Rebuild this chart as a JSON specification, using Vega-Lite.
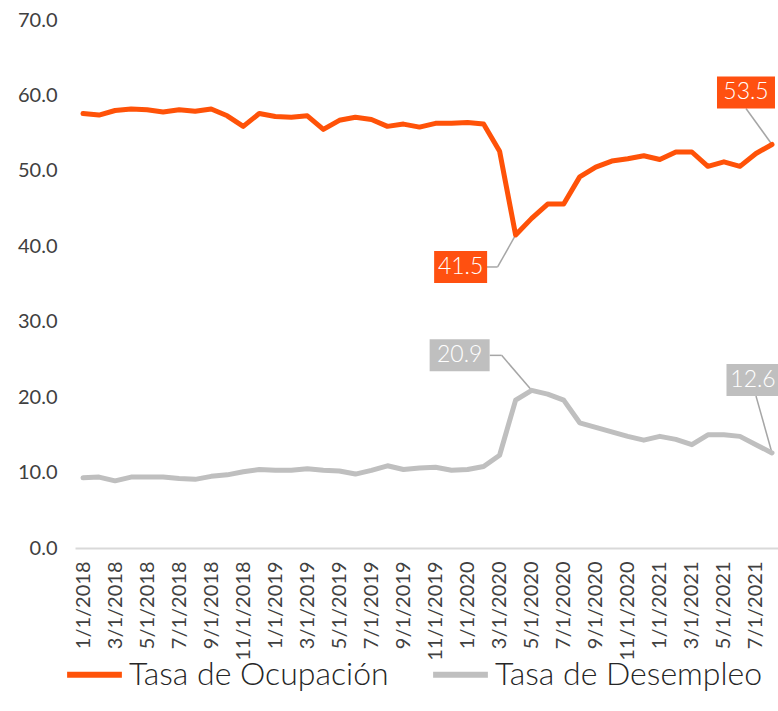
{
  "$schema": "https://vega.github.io/schema/vega-lite/v6.json",
  "width": 705,
  "height": 528,
  "autosize": {"type": "none"},
  "padding": {"left": 75, "top": 20, "right": 0, "bottom": 163},
  "background": "white",
  "config": {
    "view": {"stroke": null},
    "font": "Lato",
    "axis": {"labelFont": "Lato", "labelColor": "#404040"},
    "legend": {"labelFont": "Lato"}
  },
  "data": {
    "values": [
      {"fecha": "1/1/2018", "Tasa de Ocupación": 57.6, "Tasa de Desempleo": 9.3},
      {"fecha": "2/1/2018", "Tasa de Ocupación": 57.4, "Tasa de Desempleo": 9.4},
      {"fecha": "3/1/2018", "Tasa de Ocupación": 58.0, "Tasa de Desempleo": 8.9},
      {"fecha": "4/1/2018", "Tasa de Ocupación": 58.2, "Tasa de Desempleo": 9.4},
      {"fecha": "5/1/2018", "Tasa de Ocupación": 58.1, "Tasa de Desempleo": 9.4},
      {"fecha": "6/1/2018", "Tasa de Ocupación": 57.8, "Tasa de Desempleo": 9.4},
      {"fecha": "7/1/2018", "Tasa de Ocupación": 58.1, "Tasa de Desempleo": 9.2},
      {"fecha": "8/1/2018", "Tasa de Ocupación": 57.9, "Tasa de Desempleo": 9.1},
      {"fecha": "9/1/2018", "Tasa de Ocupación": 58.2, "Tasa de Desempleo": 9.5},
      {"fecha": "10/1/2018", "Tasa de Ocupación": 57.3, "Tasa de Desempleo": 9.7},
      {"fecha": "11/1/2018", "Tasa de Ocupación": 55.9, "Tasa de Desempleo": 10.1},
      {"fecha": "12/1/2018", "Tasa de Ocupación": 57.6, "Tasa de Desempleo": 10.4},
      {"fecha": "1/1/2019", "Tasa de Ocupación": 57.2, "Tasa de Desempleo": 10.3},
      {"fecha": "2/1/2019", "Tasa de Ocupación": 57.1, "Tasa de Desempleo": 10.3},
      {"fecha": "3/1/2019", "Tasa de Ocupación": 57.3, "Tasa de Desempleo": 10.5},
      {"fecha": "4/1/2019", "Tasa de Ocupación": 55.5, "Tasa de Desempleo": 10.3},
      {"fecha": "5/1/2019", "Tasa de Ocupación": 56.7, "Tasa de Desempleo": 10.2},
      {"fecha": "6/1/2019", "Tasa de Ocupación": 57.1, "Tasa de Desempleo": 9.8},
      {"fecha": "7/1/2019", "Tasa de Ocupación": 56.8, "Tasa de Desempleo": 10.3},
      {"fecha": "8/1/2019", "Tasa de Ocupación": 55.9, "Tasa de Desempleo": 10.9},
      {"fecha": "9/1/2019", "Tasa de Ocupación": 56.2, "Tasa de Desempleo": 10.4},
      {"fecha": "10/1/2019", "Tasa de Ocupación": 55.8, "Tasa de Desempleo": 10.6},
      {"fecha": "11/1/2019", "Tasa de Ocupación": 56.3, "Tasa de Desempleo": 10.7},
      {"fecha": "12/1/2019", "Tasa de Ocupación": 56.3, "Tasa de Desempleo": 10.3},
      {"fecha": "1/1/2020", "Tasa de Ocupación": 56.4, "Tasa de Desempleo": 10.4},
      {"fecha": "2/1/2020", "Tasa de Ocupación": 56.2, "Tasa de Desempleo": 10.8},
      {"fecha": "3/1/2020", "Tasa de Ocupación": 52.6, "Tasa de Desempleo": 12.3},
      {"fecha": "4/1/2020", "Tasa de Ocupación": 41.5, "Tasa de Desempleo": 19.6},
      {"fecha": "5/1/2020", "Tasa de Ocupación": 43.7, "Tasa de Desempleo": 20.9},
      {"fecha": "6/1/2020", "Tasa de Ocupación": 45.6, "Tasa de Desempleo": 20.4},
      {"fecha": "7/1/2020", "Tasa de Ocupación": 45.6, "Tasa de Desempleo": 19.6},
      {"fecha": "8/1/2020", "Tasa de Ocupación": 49.2, "Tasa de Desempleo": 16.6},
      {"fecha": "9/1/2020", "Tasa de Ocupación": 50.5, "Tasa de Desempleo": 16.0},
      {"fecha": "10/1/2020", "Tasa de Ocupación": 51.3, "Tasa de Desempleo": 15.4},
      {"fecha": "11/1/2020", "Tasa de Ocupación": 51.6, "Tasa de Desempleo": 14.8},
      {"fecha": "12/1/2020", "Tasa de Ocupación": 52.0, "Tasa de Desempleo": 14.3},
      {"fecha": "1/1/2021", "Tasa de Ocupación": 51.5, "Tasa de Desempleo": 14.8},
      {"fecha": "2/1/2021", "Tasa de Ocupación": 52.5, "Tasa de Desempleo": 14.4},
      {"fecha": "3/1/2021", "Tasa de Ocupación": 52.5, "Tasa de Desempleo": 13.7},
      {"fecha": "4/1/2021", "Tasa de Ocupación": 50.6, "Tasa de Desempleo": 15.0},
      {"fecha": "5/1/2021", "Tasa de Ocupación": 51.2, "Tasa de Desempleo": 15.0},
      {"fecha": "6/1/2021", "Tasa de Ocupación": 50.6, "Tasa de Desempleo": 14.8},
      {"fecha": "7/1/2021", "Tasa de Ocupación": 52.3, "Tasa de Desempleo": 13.7},
      {"fecha": "8/1/2021", "Tasa de Ocupación": 53.5, "Tasa de Desempleo": 12.6}
    ]
  },
  "transform": [
    {"fold": ["Tasa de Ocupación", "Tasa de Desempleo"], "as": ["serie", "valor"]}
  ],
  "encoding": {
    "x": {
      "field": "fecha",
      "type": "ordinal",
      "sort": null,
      "scale": {
        "type": "point",
        "padding": 0.5,
        "domain": ["1/1/2018", "2/1/2018", "3/1/2018", "4/1/2018", "5/1/2018", "6/1/2018", "7/1/2018", "8/1/2018", "9/1/2018", "10/1/2018", "11/1/2018", "12/1/2018", "1/1/2019", "2/1/2019", "3/1/2019", "4/1/2019", "5/1/2019", "6/1/2019", "7/1/2019", "8/1/2019", "9/1/2019", "10/1/2019", "11/1/2019", "12/1/2019", "1/1/2020", "2/1/2020", "3/1/2020", "4/1/2020", "5/1/2020", "6/1/2020", "7/1/2020", "8/1/2020", "9/1/2020", "10/1/2020", "11/1/2020", "12/1/2020", "1/1/2021", "2/1/2021", "3/1/2021", "4/1/2021", "5/1/2021", "6/1/2021", "7/1/2021", "8/1/2021"]
      },
      "title": null,
      "axis": {
        "values": ["1/1/2018", "3/1/2018", "5/1/2018", "7/1/2018", "9/1/2018", "11/1/2018", "1/1/2019", "3/1/2019", "5/1/2019", "7/1/2019", "9/1/2019", "11/1/2019", "1/1/2020", "3/1/2020", "5/1/2020", "7/1/2020", "9/1/2020", "11/1/2020", "1/1/2021", "3/1/2021", "5/1/2021", "7/1/2021"],
        "labelAngle": -90,
        "labelFontSize": 20,
        "labelPadding": 13,
        "ticks": false,
        "domainColor": "#D9D9D9",
        "domainWidth": 2,
        "grid": false
      }
    },
    "y": {
      "field": "valor",
      "type": "quantitative",
      "scale": {"domain": [0, 70], "nice": false},
      "title": null,
      "axis": {
        "values": [0, 10, 20, 30, 40, 50, 60, 70],
        "format": ".1f",
        "labelFontSize": 20,
        "labelPadding": 18,
        "ticks": false,
        "domain": false,
        "grid": false
      }
    }
  },
  "layer": [
    {
      "transform": [{"filter": "datum.fecha == '8/1/2021' && datum.serie == 'Tasa de Ocupación'"}],
      "mark": {"type": "rule", "color": "#A6A6A6", "strokeWidth": 1.5, "x2Offset": -26, "y2Offset": -36},
      "encoding": {"x2": {"field": "fecha"}, "y2": {"field": "valor"}}
    },
    {
      "transform": [{"filter": "datum.fecha == '8/1/2021' && datum.serie == 'Tasa de Desempleo'"}],
      "mark": {"type": "rule", "color": "#A6A6A6", "strokeWidth": 1.5, "x2Offset": -16, "y2Offset": -57},
      "encoding": {"x2": {"field": "fecha"}, "y2": {"field": "valor"}}
    },
    {
      "transform": [{"filter": "datum.fecha == '4/1/2020' && datum.serie == 'Tasa de Ocupación'"}],
      "mark": {"type": "rule", "color": "#A6A6A6", "strokeWidth": 1.5, "x2Offset": -18, "y2Offset": 32},
      "encoding": {"x2": {"field": "fecha"}, "y2": {"field": "valor"}}
    },
    {
      "transform": [{"filter": "datum.fecha == '4/1/2020' && datum.serie == 'Tasa de Ocupación'"}],
      "mark": {"type": "rule", "color": "#A6A6A6", "strokeWidth": 1.5, "xOffset": -18, "yOffset": 32, "x2Offset": -30, "y2Offset": 32},
      "encoding": {"x2": {"field": "fecha"}, "y2": {"field": "valor"}}
    },
    {
      "transform": [{"filter": "datum.fecha == '5/1/2020' && datum.serie == 'Tasa de Desempleo'"}],
      "mark": {"type": "rule", "color": "#A6A6A6", "strokeWidth": 1.5, "x2Offset": -30, "y2Offset": -35},
      "encoding": {"x2": {"field": "fecha"}, "y2": {"field": "valor"}}
    },
    {
      "transform": [{"filter": "datum.fecha == '5/1/2020' && datum.serie == 'Tasa de Desempleo'"}],
      "mark": {"type": "rule", "color": "#A6A6A6", "strokeWidth": 1.5, "xOffset": -30, "yOffset": -35, "x2Offset": -42, "y2Offset": -35},
      "encoding": {"x2": {"field": "fecha"}, "y2": {"field": "valor"}}
    },
    {
      "mark": {"type": "line", "strokeWidth": 5, "strokeJoin": "round", "strokeCap": "round"},
      "encoding": {
        "color": {
          "field": "serie",
          "type": "nominal",
          "sort": null,
          "scale": {"domain": ["Tasa de Ocupación", "Tasa de Desempleo"], "range": ["#FF5208", "#BFBFBF"]},
          "legend": {
            "title": null,
            "orient": "none",
            "legendX": -11,
            "legendY": 624,
            "direction": "horizontal",
            "labelFontSize": 32,
            "labelFontWeight": 300,
            "labelLimit": 500,
            "labelColor": "#262626",
            "symbolType": "stroke",
            "symbolSize": 3000,
            "symbolStrokeWidth": 6,
            "labelOffset": 4,
            "columnPadding": 32
          }
        }
      }
    },
    {
      "transform": [{"filter": "datum.fecha == '8/1/2021' && datum.serie == 'Tasa de Ocupación'"}],
      "mark": {"type": "point", "shape": "M-1,-0.552H1V0.552H-1Z", "size": 3364, "filled": true, "opacity": 1, "color": "#FF5010", "xOffset": -26, "yOffset": -52}
    },
    {
      "transform": [{"filter": "datum.fecha == '8/1/2021' && datum.serie == 'Tasa de Desempleo'"}],
      "mark": {"type": "point", "shape": "M-1,-0.604H1V0.604H-1Z", "size": 2809, "filled": true, "opacity": 1, "color": "#BFBFBF", "xOffset": -19, "yOffset": -73}
    },
    {
      "transform": [{"filter": "datum.fecha == '4/1/2020' && datum.serie == 'Tasa de Ocupación'"}],
      "mark": {"type": "point", "shape": "M-1,-0.604H1V0.604H-1Z", "size": 2809, "filled": true, "opacity": 1, "color": "#FF5010", "xOffset": -55, "yOffset": 32}
    },
    {
      "transform": [{"filter": "datum.fecha == '5/1/2020' && datum.serie == 'Tasa de Desempleo'"}],
      "mark": {"type": "point", "shape": "M-1,-0.533H1V0.533H-1Z", "size": 3600, "filled": true, "opacity": 1, "color": "#BFBFBF", "xOffset": -72, "yOffset": -35}
    },
    {
      "transform": [{"filter": "datum.fecha == '8/1/2021' && datum.serie == 'Tasa de Ocupación'"}],
      "mark": {"type": "text", "color": "white", "fontSize": 23, "fontWeight": 300, "align": "center", "baseline": "middle", "xOffset": -26, "yOffset": -52},
      "encoding": {"text": {"field": "valor", "type": "quantitative", "format": ".1f"}}
    },
    {
      "transform": [{"filter": "datum.fecha == '8/1/2021' && datum.serie == 'Tasa de Desempleo'"}],
      "mark": {"type": "text", "color": "white", "fontSize": 23, "fontWeight": 300, "align": "center", "baseline": "middle", "xOffset": -19, "yOffset": -73},
      "encoding": {"text": {"field": "valor", "type": "quantitative", "format": ".1f"}}
    },
    {
      "transform": [{"filter": "datum.fecha == '4/1/2020' && datum.serie == 'Tasa de Ocupación'"}],
      "mark": {"type": "text", "color": "white", "fontSize": 23, "fontWeight": 300, "align": "center", "baseline": "middle", "xOffset": -55, "yOffset": 32},
      "encoding": {"text": {"field": "valor", "type": "quantitative", "format": ".1f"}}
    },
    {
      "transform": [{"filter": "datum.fecha == '5/1/2020' && datum.serie == 'Tasa de Desempleo'"}],
      "mark": {"type": "text", "color": "white", "fontSize": 23, "fontWeight": 300, "align": "center", "baseline": "middle", "xOffset": -72, "yOffset": -35},
      "encoding": {"text": {"field": "valor", "type": "quantitative", "format": ".1f"}}
    }
  ]
}
